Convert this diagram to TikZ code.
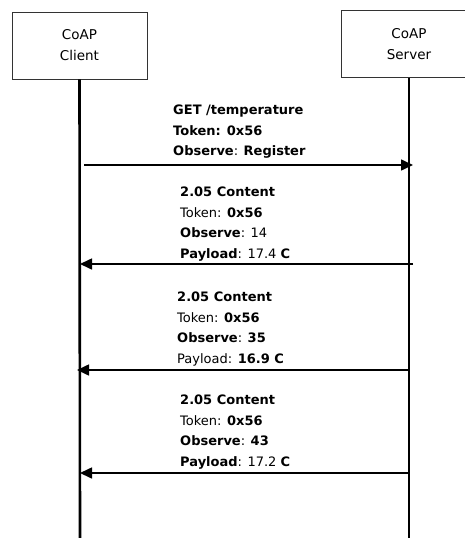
\documentclass[tikz,border=0pt]{standalone}
\usepackage{fontspec}
\setmainfont{DejaVu Sans}
\usetikzlibrary{arrows.meta}

\begin{document}
\begin{tikzpicture}[x=1pt,y=-1pt,
  party/.style={draw=black!80,line width=0.8pt,minimum width=135pt,minimum height=67pt,
    align=center,font=\fontsize{13.5}{21}\selectfont},
  lifeline/.style={line width=2.6pt},
  msg/.style={line width=1.6pt,-{Triangle[length=12pt,width=11pt]}},
  note/.style={anchor=north west,inner sep=0pt,align=left,
    font=\fontsize{13}{20.5}\selectfont}]
\useasboundingbox (0,0) rectangle (465,538);
% parties
\node[party] (client) at (79.5,45.5) {CoAP\\Client};
\node[party] (server) at (409,44) {CoAP\\Server};
\coordinate (clientend) at (80,538);
\coordinate (serverend) at (409,538);
\draw[lifeline] (client.south) -- (clientend);
\draw[lifeline] (server.south) -- (serverend);
% register
\coordinate (reqa) at (84,165);
\coordinate (reqb) at (413,165);
\draw[msg] (reqa) -- (reqb);
\node[note] (reqtext) at (173,105) {\textbf{GET /temperature}\\
  \textbf{Token: 0x56}\\\textbf{Observe}: \textbf{Register}};
% notifications
\coordinate (nota) at (413,264);
\coordinate (notb) at (80,264);
\draw[msg] (nota) -- (notb);
\node[note] (nottext) at (180,187) {\textbf{2.05 Content}\\
  Token: \textbf{0x56}\\\textbf{Observe}: 14\\\textbf{Payload}: 17.4 \textbf{C}};
\coordinate (notc) at (409,370);
\coordinate (notd) at (77,370);
\draw[msg] (notc) -- (notd);
\node[note] (nottextb) at (177,292) {\textbf{2.05 Content}\\
  Token: \textbf{0x56}\\\textbf{Observe}: \textbf{35}\\Payload: \textbf{16.9 C}};
\coordinate (note) at (409,473);
\coordinate (notf) at (80,473);
\draw[msg] (note) -- (notf);
\node[note] (nottextc) at (180,395) {\textbf{2.05 Content}\\
  Token: \textbf{0x56}\\\textbf{Observe}: \textbf{43}\\\textbf{Payload}: 17.2 \textbf{C}};
\end{tikzpicture}
\end{document}
